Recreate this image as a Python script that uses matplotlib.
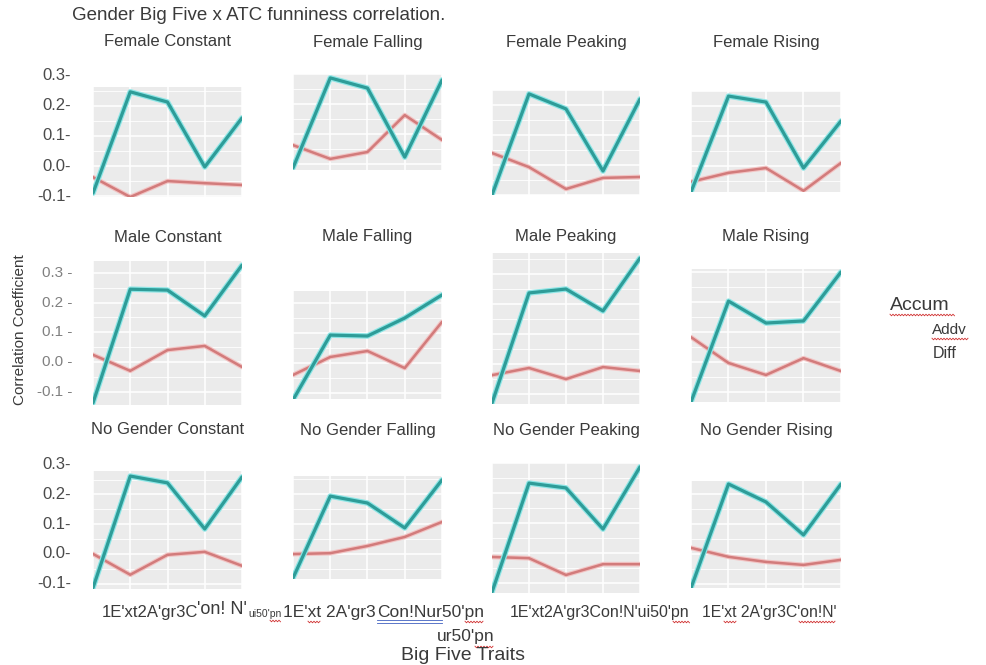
import numpy as np
import matplotlib
matplotlib.use("Agg")
import matplotlib.pyplot as plt
from matplotlib.lines import Line2D
from matplotlib.ticker import MultipleLocator
import matplotlib.transforms as mtransforms

plt.rcParams['font.family'] = ['Liberation Sans', 'DejaVu Sans']

# ---------------- data ----------------
traits = ["1Ext", "2Agr", "3Con", "4Neu", "5Opn"]
panel_titles = [
    "Female Constant", "Female Falling", "Female Peaking", "Female Rising",
    "Male Constant", "Male Falling", "Male Peaking", "Male Rising",
    "No Gender Constant", "No Gender Falling", "No Gender Peaking", "No Gender Rising",
]
# Diff (teal)
diff_female_constant = [-0.09, 0.247, 0.213, -0.003, 0.16]
diff_female_falling = [-0.013, 0.287, 0.253, 0.023, 0.28]
diff_female_peaking = [-0.10, 0.237, 0.187, -0.02, 0.22]
diff_female_rising = [-0.087, 0.233, 0.213, -0.007, 0.15]
diff_male_constant = [-0.138, 0.245, 0.242, 0.155, 0.326]
diff_male_falling = [-0.123, 0.093, 0.09, 0.15, 0.227]
diff_male_peaking = [-0.13, 0.237, 0.25, 0.177, 0.353]
diff_male_rising = [-0.133, 0.203, 0.13, 0.137, 0.30]
diff_nog_constant = [-0.114, 0.262, 0.239, 0.084, 0.259]
diff_nog_falling = [-0.08, 0.193, 0.17, 0.087, 0.247]
diff_nog_peaking = [-0.13, 0.233, 0.217, 0.08, 0.287]
diff_nog_rising = [-0.112, 0.235, 0.175, 0.065, 0.235]
# Addv (red)
addv_female_constant = [-0.037, -0.103, -0.05, -0.057, -0.063]
addv_female_falling = [0.063, 0.017, 0.04, 0.163, 0.08]
addv_female_peaking = [0.04, -0.007, -0.08, -0.043, -0.04]
addv_female_rising = [-0.053, -0.023, -0.007, -0.083, 0.01]
addv_male_constant = [0.024, -0.03, 0.04, 0.054, -0.017]
addv_male_falling = [-0.04, 0.02, 0.04, -0.017, 0.137]
addv_male_peaking = [-0.037, -0.013, -0.05, -0.01, -0.023]
addv_male_rising = [0.083, -0.003, -0.043, 0.013, -0.03]
addv_nog_constant = [0.0, -0.07, -0.003, 0.007, -0.04]
addv_nog_falling = [0.0, 0.003, 0.027, 0.057, 0.107]
addv_nog_peaking = [-0.013, -0.017, -0.073, -0.037, -0.037]
addv_nog_rising = [0.022, -0.008, -0.025, -0.035, -0.018]

diff_series = [diff_female_constant, diff_female_falling, diff_female_peaking, diff_female_rising,
               diff_male_constant, diff_male_falling, diff_male_peaking, diff_male_rising,
               diff_nog_constant, diff_nog_falling, diff_nog_peaking, diff_nog_rising]
addv_series = [addv_female_constant, addv_female_falling, addv_female_peaking, addv_female_rising,
               addv_male_constant, addv_male_falling, addv_male_peaking, addv_male_rising,
               addv_nog_constant, addv_nog_falling, addv_nog_peaking, addv_nog_rising]
y_tick_values = [0.3, 0.2, 0.1, 0.0, -0.1]
y_tick_labels = ["0.3", "0.2", "0.1", "0.0", "-0.1"]
legend_title = "Accum"
legend_labels = ["Addv", "Diff"]
# the x tick labels as they appear (garbled) in the reference, piece by piece
xlabel_pieces = [
    "1E'xt2A'gr3C", "'on! N'", "ui50'pn",
    "1E'xt 2A'gr3", "Con!Nur50'pn",
    "1E'xt2A'gr3Con!N'ui50'pn",
    "1E'xt 2A'gr3C'on!N'",
    "ur50'pn",
]

# ---------------- layout ----------------
W, H = 987, 665
# panel boxes in pixels: left, top, right, bottom
boxes = [
    (93, 87, 242, 197), (293, 74, 442, 170), (492, 90, 640, 195), (691, 91, 841, 192),
    (93, 261, 242, 405), (293, 291, 442, 399), (492, 253, 640, 404), (691, 269, 841, 402),
    (93, 471, 242, 589), (293, 476, 442, 579), (492, 463, 640, 593), (691, 481, 841, 588),
]
ylims = [
    (-0.103, 0.263), (-0.02, 0.30), (-0.10, 0.25), (-0.087, 0.25),
    (-0.145, 0.34), (-0.12, 0.24), (-0.133, 0.37), (-0.133, 0.31),
    (-0.118, 0.279), (-0.083, 0.26), (-0.133, 0.30), (-0.112, 0.245),
]
title_y = [42, 237, 430]
# (x, y, fontsize) for each x label piece
piece_pos = [
    (102, 612, 12), (197, 609, 13), (248, 614, 7.5),
    (283, 612, 12.5), (377, 612, 12.5),
    (510, 612, 11.5),
    (702, 612, 11.3),
    (437, 637, 12.5),
]

TEAL = "#2E9C98"
TEAL_HALO = "#8EE6E6"
RED = "#D27B7B"
RED_HALO = "#F2C4C4"
TXT = "#3a3a3a"


def fx(px):
    return px / W


def fy(py):
    return 1 - py / H


fig = plt.figure(figsize=(W / 100, H / 100), dpi=100)
fig.patch.set_facecolor("white")

xpos = np.arange(len(traits))
for i, (title, box, yl) in enumerate(zip(panel_titles, boxes, ylims)):
    l, t, r, b = box
    ax = fig.add_axes([fx(l), fy(b), fx(r) - fx(l), fy(t) - fy(b)])
    ax.set_facecolor("#EBEBEB")
    for s in ax.spines.values():
        s.set_visible(False)
    ax.set_xlim(0, len(traits) - 1)
    ax.set_ylim(*yl)
    ax.set_xticks(xpos)
    ax.yaxis.set_major_locator(MultipleLocator(0.1))
    ax.yaxis.set_minor_locator(MultipleLocator(0.05))
    ax.grid(True, which="major", color="white", lw=1.1)
    ax.grid(True, which="minor", axis="y", color="white", lw=0.6)
    ax.tick_params(which="both", length=0, labelleft=False, labelbottom=False)
    ax.set_axisbelow(True)
    ax.plot(xpos, addv_series[i], color=RED_HALO, lw=3.4, solid_capstyle="round", zorder=2)
    ax.plot(xpos, addv_series[i], color=RED, lw=1.8, solid_capstyle="round", zorder=3)
    ax.plot(xpos, diff_series[i], color=TEAL_HALO, lw=4.0, solid_capstyle="round", zorder=4)
    ax.plot(xpos, diff_series[i], color=TEAL, lw=2.3, solid_capstyle="round", zorder=5)
    row = i // 4
    fig.text(fx((l + r) / 2), fy(title_y[row]), title, ha="center", va="center",
             fontsize=12, color=TXT)
    if i % 4 == 0:
        tr = mtransforms.blended_transform_factory(fig.transFigure, ax.transData)
        for v, lab in zip(y_tick_values, y_tick_labels):
            if row == 1:
                ax.text(fx(72), v, lab + " -", transform=tr, ha="right", va="center",
                        fontsize=11, color="#808080", clip_on=False)
            else:
                ax.text(fx(71), v, lab + "-", transform=tr, ha="right", va="center",
                        fontsize=12, color="#4a4a4a", clip_on=False)

# figure title
fig.text(fx(72), fy(15), "Gender Big Five x ATC funniness correlation.", ha="left",
         va="center", fontsize=13.5, color=TXT)

# y axis label
fig.text(fx(20), fy(330), "Correlation Coefficient", rotation=90, ha="center",
         va="center", fontsize=11, color=TXT)

# garbled x tick labels (as in the reference)
for s, (x, y, fs) in zip(xlabel_pieces, piece_pos):
    fig.text(fx(x), fy(y), s, ha="left", va="center", fontsize=fs, color=TXT)
fig.text(fx(463), fy(655), "Big Five Traits", ha="center", va="center", fontsize=14, color=TXT)

# legend (text only, as in the reference)
fig.text(fx(890), fy(305), legend_title, ha="left", va="center", fontsize=14, color=TXT)
fig.text(fx(932), fy(330), legend_labels[0], ha="left", va="center", fontsize=11, color=TXT)
fig.text(fx(933), fy(353), legend_labels[1], ha="left", va="center", fontsize=11.5, color=TXT)


# spell-check style underlines
def squiggle(x0, x1, y, color="#D03030"):
    xs = np.arange(x0, x1 + 0.01, 1.5)
    ys = y + np.where(np.arange(len(xs)) % 2 == 0, -0.8, 0.8)
    fig.add_artist(Line2D(fx(xs), fy(ys), transform=fig.transFigure, color=color, lw=0.6))


for x0, x1, y in [(270, 281, 621), (308, 321, 622), (465, 484, 622), (475, 494, 647),
                  (673, 690, 622), (724, 736, 622), (799, 835, 622), (890, 955, 315),
                  (932, 968, 339)]:
    squiggle(x0, x1, y)
for yy in (620, 622.5):
    fig.add_artist(Line2D([fx(377), fx(442)], [fy(yy), fy(yy)], transform=fig.transFigure,
                          color="#4060C0", lw=0.6))

fig.savefig("out.png", dpi=100)
